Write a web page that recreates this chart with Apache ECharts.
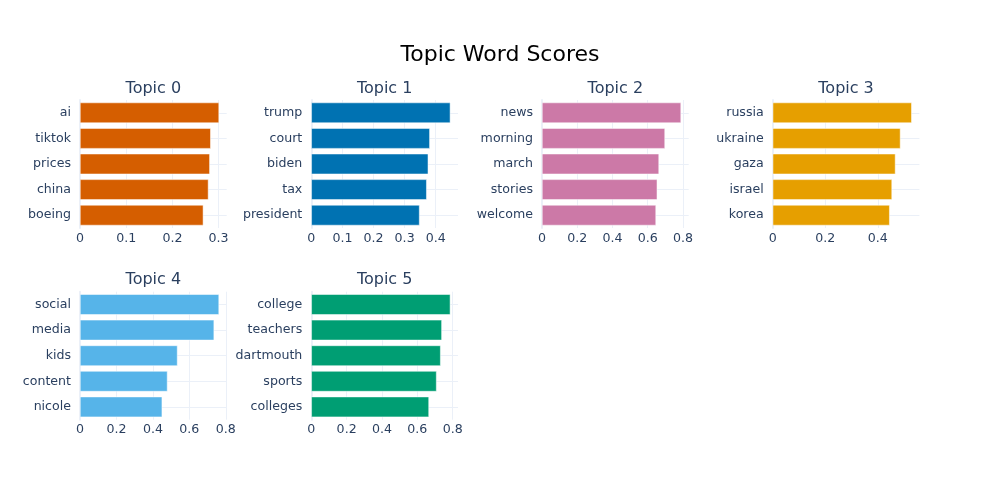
<!DOCTYPE html>
<html><head><meta charset="utf-8">
<script src="https://cdn.jsdelivr.net/npm/echarts@6/dist/echarts.min.js"></script>
<style>html,body{margin:0;padding:0;background:#fff}#c{width:1000px;height:500px}</style>
</head><body><div id="c"></div>
<script>
const chartTitle = 'Topic Word Scores';
const topicNames = ['Topic 0', 'Topic 1', 'Topic 2', 'Topic 3', 'Topic 4', 'Topic 5'];
const words0 = ['ai', 'tiktok', 'prices', 'china', 'boeing'];
const scores0 = [0.301, 0.283, 0.281, 0.278, 0.267];
const words1 = ['trump', 'court', 'biden', 'tax', 'president'];
const scores1 = [0.447, 0.381, 0.376, 0.371, 0.348];
const words2 = ['news', 'morning', 'march', 'stories', 'welcome'];
const scores2 = [0.789, 0.698, 0.664, 0.654, 0.647];
const words3 = ['russia', 'ukraine', 'gaza', 'israel', 'korea'];
const scores3 = [0.529, 0.486, 0.467, 0.454, 0.445];
const words4 = ['social', 'media', 'kids', 'content', 'nicole'];
const scores4 = [0.763, 0.736, 0.535, 0.480, 0.451];
const words5 = ['college', 'teachers', 'dartmouth', 'sports', 'colleges'];
const scores5 = [0.787, 0.739, 0.732, 0.709, 0.666];
const tickSteps = [0.1, 0.1, 0.2, 0.2, 0.2, 0.2];
const colors = ['#D55E00', '#0072B2', '#CC79A7', '#E69F00', '#56B4E9', '#009E73'];

const allWords = [words0, words1, words2, words3, words4, words5];
const allScores = [scores0, scores1, scores2, scores3, scores4, scores5];

const FONT = 'DejaVu Sans';
const TXT = '#2a3f5f';
const GRIDC = '#EBF0F8';
const colLeft = [80, 311.3, 542, 772.7];
const rowTop = [100, 291.7];
const plotW = 146.7, plotH = 128;
const tickFont = 12.6;

const grids = [], xAxes = [], yAxes = [], series = [], graphics = [];
graphics.push({type: 'text', x: 500, y: 55, style: {text: chartTitle, fontSize: 22, fontFamily: FONT, fill: '#000', textAlign: 'center', textVerticalAlign: 'middle'}});

allWords.forEach((words, i) => {
  const left = colLeft[i % 4], top = rowTop[Math.floor(i / 4)];
  grids.push({left: left, top: top, width: plotW, height: plotH, containLabel: false});
  graphics.push({type: 'text', x: left + plotW / 2, y: top - 11.5,
    style: {text: topicNames[i], fontSize: 16, fontFamily: FONT, fill: TXT, textAlign: 'center', textVerticalAlign: 'middle'}});
  xAxes.push({
    gridIndex: i, type: 'value', min: 0, max: e => e.max * 1.055, interval: tickSteps[i],
    axisLine: {show: false}, axisTick: {show: false},
    axisLabel: {color: TXT, fontSize: tickFont, fontFamily: FONT, margin: 4, showMaxLabel: false},
    splitLine: {show: true, showMaxLine: false, lineStyle: {color: GRIDC, width: 1}}
  });
  yAxes.push({
    gridIndex: i, type: 'category', data: words, inverse: true, position: 'left',
    axisLine: {show: true, lineStyle: {color: GRIDC, width: 2}}, axisTick: {show: false},
    axisLabel: {color: TXT, fontSize: tickFont, fontFamily: FONT, margin: 9},
    splitLine: {show: false}
  });
  yAxes.push({
    gridIndex: i, type: 'category', boundaryGap: false, position: 'right',
    data: Array.from({length: 11}, (_, k) => 'g' + k),
    axisLine: {show: false}, axisTick: {show: false}, axisLabel: {show: false},
    splitLine: {show: true, interval: (idx) => idx % 2 === 1, lineStyle: {color: GRIDC, width: 1}}
  });
  series.push({
    type: 'bar', xAxisIndex: i, yAxisIndex: 2 * i, data: allScores[i],
    barCategoryGap: '20%', silent: true,
    itemStyle: {color: colors[i], borderColor: '#ffffff', borderWidth: 0.5}
  });
});

const chart = echarts.init(document.getElementById('c'), null, {renderer: 'canvas'});
chart.setOption({
  backgroundColor: '#fff',
  animation: false,
  grid: grids, xAxis: xAxes, yAxis: yAxes, series: series,
  graphic: graphics
});
</script></body></html>
